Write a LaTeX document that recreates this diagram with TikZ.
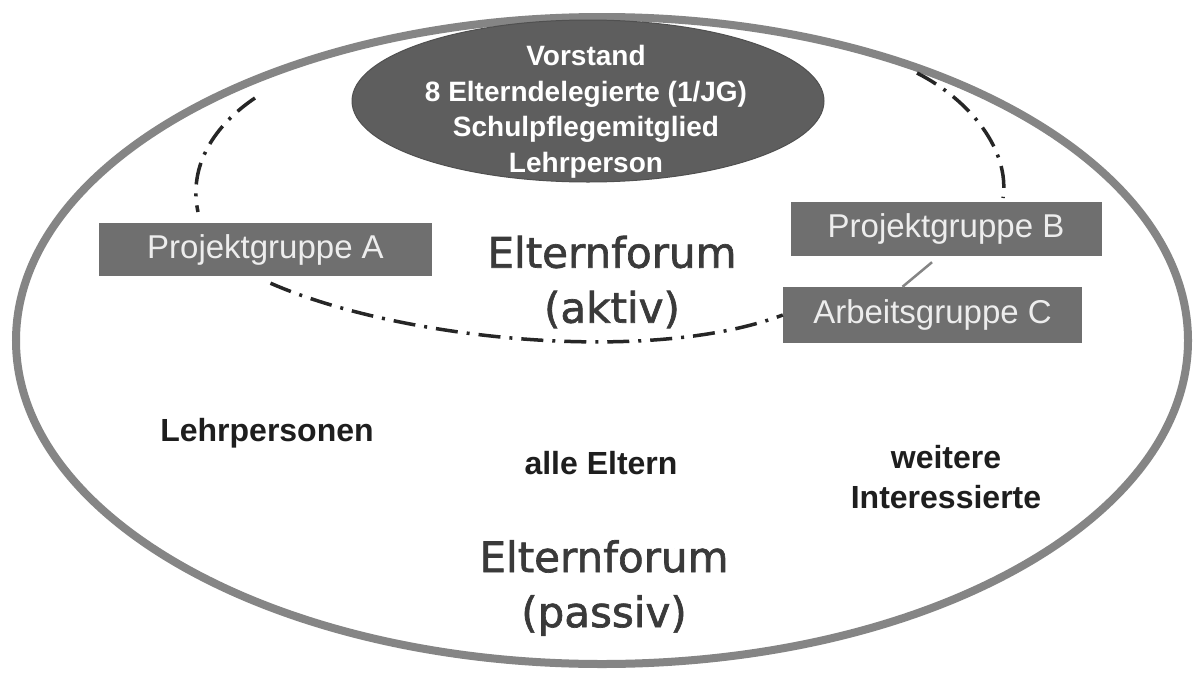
\documentclass[tikz,border=0pt]{standalone}
\usepackage{fontspec}
\setmainfont{Liberation Sans}
\newfontfamily\forumfont[FakeBold=1.6]{DejaVu Sans}
\usetikzlibrary{shapes.geometric}
\definecolor{ringgray}{HTML}{858585}
\definecolor{vorgray}{HTML}{5E5E5E}
\definecolor{boxgray}{HTML}{6F6F6F}
\definecolor{boxtext}{HTML}{EDEDED}
\definecolor{dashcol}{HTML}{262626}
\definecolor{forumtext}{HTML}{3A3A3A}
\definecolor{membertext}{HTML}{1E1E1E}
\begin{document}
\begin{tikzpicture}[x=1pt,y=-1pt,
  ring/.style={draw=ringgray, line width=8pt, ellipse, inner sep=0pt, minimum width=1172pt, minimum height=647pt},
  vorstand/.style={fill=vorgray, draw=vorgray!85!black, line width=1pt, ellipse, inner sep=0pt, minimum width=472pt, minimum height=162pt},
  vtext/.style={text=white, font=\bfseries\fontsize{28}{35.5}\selectfont, align=center, inner sep=0pt},
  grp/.style={fill=boxgray, text=boxtext, font=\fontsize{33}{40}\selectfont, inner sep=0pt},
  forum/.style={text=forumtext, font=\forumfont\fontsize{42}{55}\selectfont, align=center, inner sep=0pt},
  member/.style={text=membertext, font=\bfseries\fontsize{32}{40}\selectfont, align=center, inner sep=0pt},
  dd/.style={draw=dashcol, line width=3.5pt, dash pattern=on 22pt off 9pt on 3pt off 9pt},
  link/.style={draw=ringgray, line width=2.5pt},
]
\useasboundingbox (0,0) rectangle (1196,672);
\fill[white] (0,0) rectangle (1196,672);

% outer ellipse: Elternforum (passiv)
\node[ring] (outer) at (602,340.5) {};

% Vorstand
\node[vorstand] (V) at (588,101) {};
\node[vtext] (Vt) at (586,112) {Vorstand\\8 Elterndelegierte (1/JG)\\Schulpflegemitglied\\Lehrperson};

% groups
\node[grp, minimum width=333pt, minimum height=53pt] (A) at (265.5,249.5) {Projektgruppe A};
\node[grp, minimum width=311pt, minimum height=54pt] (B) at (946,229) {Projektgruppe B};
\node[grp, minimum width=299pt, minimum height=56pt] (C) at (932.5,315) {Arbeitsgruppe C};

% dash-dot boundary of the active forum
\coordinate (la) at (255,98);
\coordinate (lb) at (198,212);
\coordinate (ra) at (917,73);
\coordinate (rb) at (1003,198);
\draw[dd] (la) .. controls (215,125) and (188,165) .. (lb);
\draw[dd] (ra) .. controls (970,100) and (1010,150) .. (rb);
\draw[dd] ([shift={(5,7)}]A.south) .. controls (400,340) and (650,365) .. (C.west);
\draw[link] ([shift={(-14,6)}]B.south) -- ([shift={(-30,0)}]C.north);

% texts
\node[forum] (aktiv) at (612,282) {Elternforum\\(aktiv)};
\node[forum] (passiv) at (604,588) {Elternforum\\(passiv)};
\node[member] (lehr) at (267,433) {Lehrpersonen};
\node[member] (eltern) at (601,463) {alle Eltern};
\node[member] (weitere) at (946,477) {weitere\\Interessierte};
\end{tikzpicture}
\end{document}
